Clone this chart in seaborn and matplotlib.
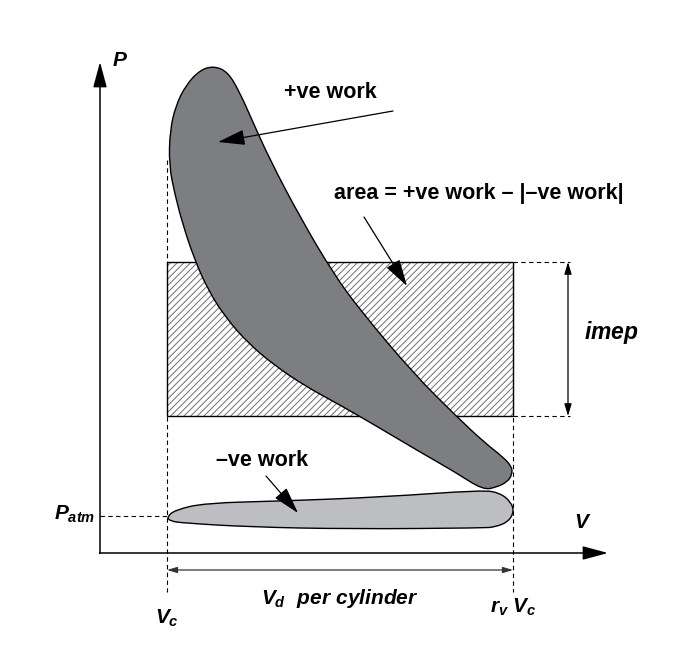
import matplotlib
matplotlib.use("Agg")
import matplotlib.pyplot as plt
from matplotlib.path import Path
from matplotlib.patches import PathPatch, Rectangle
import seaborn as sns
import numpy as np
import pandas as pd

# outline of the +ve work loop (V, P in drawing units, P grows downward)
pos_v = [214, 228, 240, 252, 270, 300, 333, 360, 413, 457, 485, 503, 512,
         512, 507, 497, 483, 455, 420, 378, 340, 305, 274, 248, 226, 208, 194, 183,
         175, 169, 170, 176, 186, 200]
pos_p = [66, 72, 93, 120, 160, 217, 273, 310, 373, 417, 443, 457, 467,
         475, 482, 487, 490, 472, 452, 427, 405, 386, 365, 343, 318, 290, 258, 225,
         195, 165, 130, 105, 85, 70]

# outline of the -ve work (pumping) loop
neg_v = [167, 175, 205, 283, 383, 483, 500, 511, 514, 508, 495, 483, 350, 250, 183, 170]
neg_p = [517, 510, 503, 501, 497, 490, 493, 502, 512, 522, 527, 528, 529, 527, 523, 521]

# key volumes / pressures
v_axis, v_c, v_max = 100, 167, 513
p_axis, p_atm = 553, 516
imep_top, imep_bot = 262, 416

sns.set_theme(style="white")
plt.rcParams["font.family"] = ["Liberation Sans", "DejaVu Sans"]
plt.rcParams["mathtext.fontset"] = "custom"
plt.rcParams["mathtext.it"] = "Liberation Sans:italic:bold"
plt.rcParams["mathtext.rm"] = "Liberation Sans:bold"
plt.rcParams["hatch.linewidth"] = 0.7


def smooth_closed(xs, ys):
    pts = np.column_stack([xs, ys]).astype(float)
    mids = (pts + np.roll(pts, -1, axis=0)) / 2
    verts = [mids[-1]]
    codes = [Path.MOVETO]
    for i in range(len(pts)):
        verts += [pts[i], mids[i]]
        codes += [Path.CURVE3, Path.CURVE3]
    verts.append(verts[0])
    codes.append(Path.CLOSEPOLY)
    return Path(verts, codes)


fig = plt.figure(figsize=(6.86, 6.66), dpi=100)
ax = fig.add_axes([0, 0, 1, 1])
ax.set_xlim(0, 686)
ax.set_ylim(666, 0)
ax.axis("off")

# imep rectangle
ax.add_patch(Rectangle((v_c, imep_top), v_max - v_c, imep_bot - imep_top,
                       facecolor="white", edgecolor="#6e6e6e", linewidth=0,
                       hatch="/////", zorder=1))
ax.add_patch(Rectangle((v_c, imep_top), v_max - v_c, imep_bot - imep_top,
                       fill=False, edgecolor="black", linewidth=1.0, zorder=2))

# loops
ax.add_patch(PathPatch(smooth_closed(pos_v, pos_p), facecolor="#7d7e82",
                       edgecolor="black", linewidth=1.0, zorder=3))
ax.add_patch(PathPatch(smooth_closed(neg_v, neg_p), facecolor="#bdbec1",
                       edgecolor="black", linewidth=1.0, zorder=4))

# dashed guide lines
guides = pd.DataFrame({
    "v": [v_c, v_c, v_max, v_max, v_max, 570, v_max, 570, v_axis, v_c],
    "p": [160, 592, imep_top, 592, imep_top, imep_top, imep_bot, imep_bot, p_atm, p_atm],
    "g": ["a", "a", "b", "b", "c", "c", "d", "d", "e", "e"],
})
sns.lineplot(data=guides, x="v", y="p", units="g", estimator=None, sort=False,
             color="black", linewidth=0.8, dashes=False, ax=ax, zorder=0,
             linestyle=(0, (4, 3)))

# axes arrows
ax.annotate("", xy=(v_axis, 62), xytext=(v_axis, p_axis + 0.5),
            arrowprops=dict(arrowstyle="-|>,head_length=1.3,head_width=0.35",
                            color="black", lw=1.1, shrinkA=0, shrinkB=0))
ax.annotate("", xy=(608, p_axis), xytext=(v_axis - 0.5, p_axis),
            arrowprops=dict(arrowstyle="-|>,head_length=1.3,head_width=0.35",
                            color="black", lw=1.1, shrinkA=0, shrinkB=0))

# Vd and imep dimension arrows
ax.annotate("", xy=(v_c, 570), xytext=(v_max, 570),
            arrowprops=dict(arrowstyle="<|-|>,head_length=0.5,head_width=0.15",
                            color="#333333", lw=0.9, shrinkA=0, shrinkB=0))
ax.annotate("", xy=(568, imep_top), xytext=(568, imep_bot),
            arrowprops=dict(arrowstyle="<|-|>,head_length=0.6,head_width=0.18",
                            color="black", lw=0.9, shrinkA=0, shrinkB=0))

# callouts
pointer = dict(arrowstyle="-|>,head_length=1.4,head_width=0.4", color="black",
               lw=0.9, shrinkA=0, shrinkB=0)
ax.annotate("", xy=(218, 142), xytext=(393, 111), arrowprops=pointer, zorder=6)
ax.annotate("", xy=(407, 286), xytext=(364, 217), arrowprops=pointer, zorder=6)
ax.annotate("", xy=(298, 513), xytext=(266, 476), arrowprops=pointer, zorder=6)

bold = dict(fontsize=15.5, fontweight="bold", color="black")
ax.text(330, 92, "+ve work", ha="center", va="center", **bold)
ax.text(334, 193, "area = +ve work \u2013 |\u2013ve work|", ha="left", va="center", **bold)
ax.text(262, 460, "\u2013ve work", ha="center", va="center", **bold)

lab = dict(fontsize=15, color="black")
ax.text(120, 61, "$P$", ha="center", va="center", **lab)
ax.text(583, 523, "$V$", ha="center", va="center", **lab)
ax.text(75, 514, "$P_{atm}$", ha="center", va="center", **lab)
ax.text(611, 333, "$imep$", ha="center", va="center", fontsize=16.5, color="black")
ax.text(340, 598, r"$V_d\ \ per\ cylinder$", ha="center", va="center", **lab)
ax.text(167, 618, "$V_c$", ha="center", va="center", **lab)
ax.text(513, 607, r"$r_v\ V_c$", ha="center", va="center", **lab)

fig.savefig("out.png", dpi=100)
